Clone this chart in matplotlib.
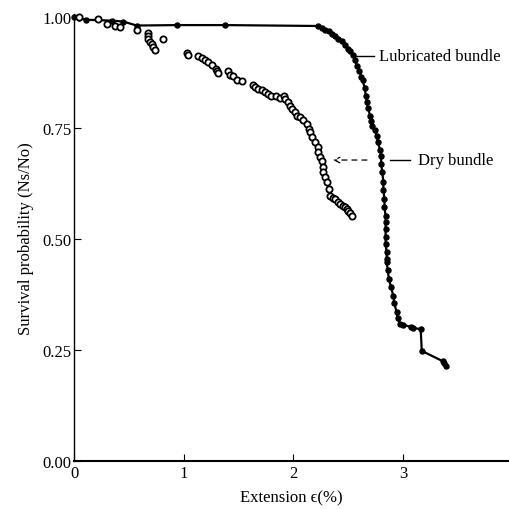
import numpy as np
import matplotlib
matplotlib.use('Agg')
import matplotlib.pyplot as plt

plt.rcParams['font.family'] = ['Liberation Serif', 'DejaVu Serif']

#
#  survival curves: lubricated (filled dots + line)
#  and dry bundle (open circles)
#
lub_x = [0.00, 0.05, 0.11, 0.35, 0.45, 0.57, 0.94, 1.38, 2.22,
         2.26, 2.29, 2.32, 2.35, 2.38, 2.41, 2.44, 2.47, 2.50, 2.52,
         2.54, 2.56, 2.58, 2.60, 2.62, 2.63, 2.65, 2.66, 2.67, 2.68,
         2.70, 2.71, 2.72, 2.74, 2.76, 2.77, 2.79, 2.80, 2.80, 2.81,
         2.82, 2.82, 2.83, 2.83, 2.84, 2.84, 2.84, 2.84, 2.84, 2.85,
         2.85, 2.85, 2.86, 2.87, 2.89, 2.91, 2.92, 2.94, 2.95, 2.97,
         3.00, 3.07, 3.09, 3.16, 3.17, 3.36, 3.37, 3.39]
lub_y = [1.000, 0.997, 0.994, 0.992, 0.990, 0.981, 0.982, 0.982, 0.980,
         0.975, 0.972, 0.968, 0.962, 0.957, 0.951, 0.946, 0.938, 0.929, 0.923,
         0.914, 0.904, 0.890, 0.878, 0.866, 0.858, 0.840, 0.822, 0.808, 0.795,
         0.777, 0.765, 0.755, 0.745, 0.732, 0.718, 0.700, 0.687, 0.670, 0.650,
         0.628, 0.610, 0.590, 0.572, 0.552, 0.538, 0.523, 0.505, 0.488, 0.470,
         0.455, 0.448, 0.430, 0.410, 0.392, 0.372, 0.355, 0.336, 0.322, 0.309,
         0.307, 0.302, 0.300, 0.297, 0.248, 0.225, 0.220, 0.214]

dry_x = [0.05, 0.22, 0.30, 0.37, 0.42, 0.57, 0.67, 0.67, 0.67, 0.69,
         0.71, 0.72, 0.74, 0.81, 1.03, 1.04, 1.13, 1.17, 1.19, 1.22,
         1.26, 1.29, 1.30, 1.31, 1.40, 1.42, 1.45, 1.49, 1.53, 1.63,
         1.65, 1.68, 1.71, 1.74, 1.77, 1.80, 1.84, 1.88, 1.91, 1.92,
         1.95, 1.97, 1.99, 2.01, 2.03, 2.06, 2.09, 2.12, 2.14, 2.15,
         2.17, 2.20, 2.22, 2.22, 2.24, 2.26, 2.27, 2.27, 2.29, 2.31,
         2.32, 2.33, 2.36, 2.38, 2.41, 2.42, 2.45, 2.47, 2.49, 2.50,
         2.52, 2.53]
dry_y = [1.000, 0.995, 0.984, 0.980, 0.977, 0.971, 0.964, 0.957, 0.950, 0.944,
         0.939, 0.932, 0.926, 0.950, 0.919, 0.914, 0.912, 0.908, 0.903, 0.899,
         0.892, 0.883, 0.878, 0.874, 0.878, 0.869, 0.867, 0.858, 0.856, 0.847,
         0.842, 0.838, 0.836, 0.831, 0.827, 0.822, 0.822, 0.818, 0.822, 0.815,
         0.809, 0.800, 0.793, 0.786, 0.777, 0.775, 0.768, 0.759, 0.748, 0.741,
         0.730, 0.718, 0.707, 0.696, 0.685, 0.676, 0.662, 0.651, 0.640, 0.628,
         0.613, 0.597, 0.592, 0.590, 0.583, 0.579, 0.574, 0.572, 0.568, 0.563,
         0.559, 0.552]

xticks = [0, 1, 2, 3]
yticks = [0.0, 0.25, 0.5, 0.75, 1.0]

fig = plt.figure(figsize=(5.09, 5.10), dpi=100)
ax = fig.add_axes([0.1454, 0.0941, 0.8546, 0.8765])

ax.plot(lub_x, lub_y, color='black', lw=1.6, marker='o', ms=3.6,
        mfc='black', mec='black', clip_on=False, zorder=3)
ax.plot(dry_x, dry_y, ls='none', marker='o', ms=4.5, mfc='white',
        mec='black', mew=1.3, clip_on=False, zorder=4)

# labels with leader lines
ax.plot([2.56, 2.73], [0.912, 0.912], color='black', lw=1.0)
ax.text(2.78, 0.912, 'Lubricated bundle', fontsize=12, va='center', ha='left')
ax.annotate('', xy=(2.36, 0.678), xytext=(2.67, 0.678),
            arrowprops=dict(arrowstyle='->', color='black', lw=0.9,
                            linestyle=(0, (4, 4)), shrinkA=0, shrinkB=0))
ax.plot([2.88, 3.06], [0.678, 0.678], color='black', lw=1.0)
ax.text(3.14, 0.678, 'Dry bundle', fontsize=12, va='center', ha='left')

ax.set_xlim(0, 3.965)
ax.set_ylim(0, 1.007)
ax.set_xticks(xticks)
ax.set_xticklabels([str(t) for t in xticks])
ax.set_yticks(yticks)
ax.set_yticklabels(['%.2f' % t for t in yticks])
ax.tick_params(direction='in', length=5, width=0.8, labelsize=12, pad=2)
ax.tick_params(axis='x', pad=3)

for s in ['top', 'right']:
    ax.spines[s].set_visible(False)
ax.spines['bottom'].set_linewidth(1.5)
ax.spines['left'].set_linewidth(1.0)

ax.set_xlabel('Extension \u03f5(%)', fontsize=12, labelpad=6)
ax.set_ylabel('Survival probability (Ns/No)', fontsize=12, labelpad=6)

fig.savefig('out.png', dpi=100)
